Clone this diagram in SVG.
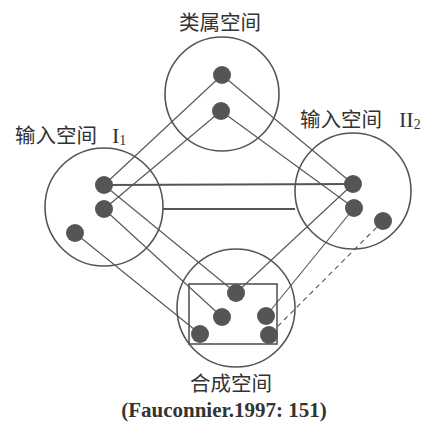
<svg xmlns="http://www.w3.org/2000/svg" width="429" height="427" viewBox="0 0 429 427">
<style>
.c{fill:none;stroke:#555;stroke-width:1.6}
.d{fill:#555}
.l{stroke:#555;stroke-width:1.1;fill:none}
.h{stroke:#555;stroke-width:2;fill:none}
.dash{stroke:#555;stroke-width:1.1;stroke-dasharray:5 4;fill:none}
.cn{font-family:"Noto Sans CJK SC","Noto Sans",sans-serif;font-size:20.5px;fill:#333}
.sr{font-family:"Liberation Serif",serif;fill:#333}
</style>
<rect width="429" height="427" fill="#fff"/>
<g id="connectors">
<line class="l" x1="222" y1="75" x2="104" y2="185"/>
<line class="l" x1="222" y1="75" x2="353" y2="184"/>
<line class="l" x1="221" y1="111" x2="104" y2="209"/>
<line class="l" x1="221" y1="111" x2="354" y2="208"/>
<line class="h" x1="104" y1="185" x2="353" y2="184"/>
<line class="h" x1="163" y1="209" x2="295" y2="209"/>
<line class="l" x1="104" y1="185" x2="236" y2="293"/>
<line class="l" x1="353" y1="184" x2="236" y2="293"/>
<line class="l" x1="104" y1="209" x2="222" y2="317"/>
<line class="l" x1="75" y1="233" x2="200" y2="334"/>
<line class="l" x1="354" y1="208" x2="266" y2="316"/>
<line class="dash" x1="383" y1="221" x2="269" y2="335"/>
</g>
<g id="generic">
<circle class="c" cx="222" cy="94" r="57"/>
<circle class="d" cx="222" cy="75" r="9"/>
<circle class="d" cx="221" cy="111" r="9"/>
<text class="cn" x="220" y="30" text-anchor="middle">类属空间</text>
</g>
<g id="input1">
<circle class="c" cx="104" cy="207" r="59"/>
<circle class="d" cx="104" cy="185" r="9"/>
<circle class="d" cx="104" cy="209" r="9"/>
<circle class="d" cx="75" cy="233" r="9"/>
<text class="cn" x="15" y="143">输入空间</text>
<text class="sr" x="112" y="143" font-size="22">I<tspan font-size="14" dy="2">1</tspan></text>
</g>
<g id="input2">
<circle class="c" cx="353" cy="191" r="58"/>
<circle class="d" cx="353" cy="184" r="9"/>
<circle class="d" cx="354" cy="208" r="9"/>
<circle class="d" cx="383" cy="221" r="9"/>
<text class="cn" x="300" y="127">输入空间</text>
<text class="sr" x="399" y="127" font-size="22">II<tspan font-size="14" dy="2">2</tspan></text>
</g>
<g id="blend">
<circle class="c" cx="236" cy="308" r="59"/>
<rect x="189" y="284" width="88" height="60" fill="none" stroke="#555" stroke-width="1.6"/>
<circle class="d" cx="236" cy="293" r="9"/>
<circle class="d" cx="222" cy="317" r="9"/>
<circle class="d" cx="200" cy="334" r="9"/>
<circle class="d" cx="266" cy="316" r="9"/>
<circle class="d" cx="269" cy="335" r="9"/>
<text class="cn" x="231" y="391" text-anchor="middle">合成空间</text>
</g>
<text class="sr" x="224" y="417" font-size="21" font-weight="bold" text-anchor="middle">(Fauconnier.1997: 151)</text>
</svg>
